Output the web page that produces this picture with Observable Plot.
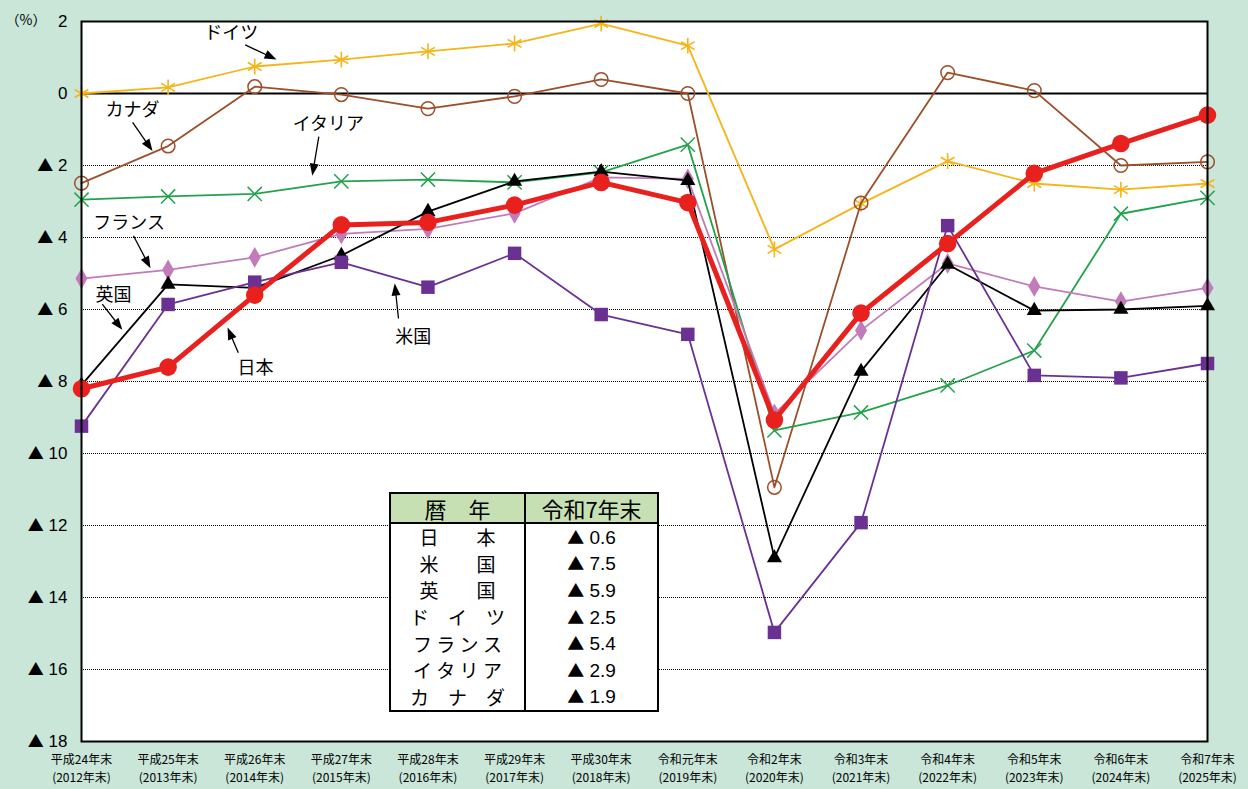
<!DOCTYPE html>
<html><head><meta charset="utf-8">
<script src="https://cdn.jsdelivr.net/npm/d3@7"></script>
<script src="https://cdn.jsdelivr.net/npm/@observablehq/plot@0.6"></script>
<style>
html,body{margin:0;padding:0;background:#c9e6d9;width:1248px;height:789px;overflow:hidden;}
#wrap{position:relative;width:1248px;height:789px;}
#wrap svg{position:absolute;left:0;top:0;}
#tbl{position:absolute;left:389px;top:492px;border-collapse:collapse;border:2px solid #000;background:#fff;font-family:"Noto Sans CJK JP",sans-serif;color:#000;}
#tbl th{background:#c6e0b4;font-weight:normal;font-size:22px;height:28px;line-height:20px;padding:0;border-bottom:2px solid #000;text-align:center;}
#tbl td{font-size:19px;line-height:18px;height:26.6px;padding:0;text-align:center;vertical-align:middle;}
#tbl .c1{width:133px;border-right:2px solid #000;}
#tbl .c2{width:131px;}
#tbl td.c2{font-family:"Liberation Sans","Noto Sans CJK JP",sans-serif;font-size:19px;}
#tbl .tri{font-family:"Noto Sans CJK JP",sans-serif;font-size:17px;line-height:18px;}
</style></head>
<body><div id="wrap"></div>
<script>
// categories
const eraLabels = ["平成24年末","平成25年末","平成26年末","平成27年末","平成28年末","平成29年末","平成30年末","令和元年末","令和2年末","令和3年末","令和4年末","令和5年末","令和6年末","令和7年末"];
const yearLabels = ["(2012年末)","(2013年末)","(2014年末)","(2015年末)","(2016年末)","(2017年末)","(2018年末)","(2019年末)","(2020年末)","(2021年末)","(2022年末)","(2023年末)","(2024年末)","(2025年末)"];
// series values (%)
const japan   = [-8.2,-7.6,-5.6,-3.65,-3.58,-3.1,-2.47,-3.03,-9.07,-6.1,-4.17,-2.22,-1.39,-0.6];
const usa     = [-9.24,-5.86,-5.24,-4.69,-5.38,-4.44,-6.14,-6.69,-14.97,-11.92,-3.67,-7.83,-7.9,-7.5];
const uk      = [-8.1,-5.3,-5.4,-4.5,-3.28,-2.44,-2.17,-2.42,-12.9,-7.72,-4.75,-6.03,-6.0,-5.9];
const germany = [0.0,0.17,0.75,0.94,1.17,1.39,1.94,1.33,-4.33,-3.06,-1.88,-2.5,-2.67,-2.5];
const france  = [-5.14,-4.9,-4.55,-3.9,-3.76,-3.33,-2.33,-2.37,-8.9,-6.58,-4.72,-5.36,-5.78,-5.4];
const italy   = [-2.95,-2.86,-2.79,-2.44,-2.39,-2.47,-2.19,-1.42,-9.36,-8.86,-8.11,-7.14,-3.34,-2.9];
const canada  = [-2.49,-1.46,0.19,-0.03,-0.42,-0.08,0.39,0.0,-10.94,-3.04,0.58,0.08,-2.0,-1.9];
// tick values
const yTicks = [2,0,-2,-4,-6,-8,-10,-12,-14,-16,-18];
const gridTicks = [-2,-4,-6,-8,-10,-12,-14,-16];
// table
const tableHeader = ["暦　年","令和7年末"];
const tableNames = ["日　　本","米　　国","英　　国","ド　イ　ツ","フ ラ ン ス","イ タ リ ア","カ　ナ　ダ"];
const tableSeries = [japan, usa, uk, germany, france, italy, canada];
// annotation labels
const annotLabels = ["ドイツ","カナダ","イタリア","フランス","英国","日本","米国"];

const annotPos = [
  {tx:1.73,ty:1.68,x1:1.89,y1:1.35,x2:2.22,y2:0.98},
  {tx:0.59,ty:-0.47,x1:0.59,y1:-0.8,x2:0.8,y2:-1.53},
  {tx:2.85,ty:-0.86,x1:2.74,y1:-1.2,x2:2.67,y2:-2.2},
  {tx:0.55,ty:-3.61,x1:0.6,y1:-3.95,x2:0.78,y2:-4.78},
  {tx:0.37,ty:-5.61,x1:0.24,y1:-5.85,x2:0.45,y2:-6.5},
  {tx:2.01,ty:-7.64,x1:1.81,y1:-7.2,x2:1.7,y2:-6.58},
  {tx:3.83,ty:-6.78,x1:3.66,y1:-6.25,x2:3.62,y2:-5.36}
];
const annots = annotLabels.map((label,i)=>({label, ...annotPos[i]}));

const idx = d3.range(eraLabels.length);
const seriesStyle = [
  {values:germany, color:"#f5b417", w:1.8, dot:{symbol:"asterisk", r:7.5, stroke:"#f5b417", strokeWidth:1.6, fill:"none"}},
  {values:canada,  color:"#9b4f2b", w:1.8, dot:{symbol:"circle", r:6.8, stroke:"#9b4f2b", strokeWidth:1.5, fill:"none"}},
  {values:italy,   color:"#23a24c", w:1.8, dot:{symbol:"times", r:6.5, stroke:"#23a24c", strokeWidth:1.5, fill:"none"}},
  {values:france,  color:"#c27bb9", w:1.8, dot:{symbol:"diamond", r:6.3, fill:"#c27bb9"}},
  {values:uk,      color:"#000000", w:1.8, dot:{symbol:"triangle", r:5.6, fill:"#000000"}},
  {values:usa,     color:"#6a3192", w:1.8, dot:{symbol:"square", r:7.6, fill:"#6a3192"}},
  {values:japan,   color:"#e8201e", w:5,   dot:{symbol:"circle", r:8.8, fill:"#e8201e"}}
];

const marks = [
  Plot.frame({fill:"white"}),
  Plot.ruleY(gridTicks, {stroke:"#000", strokeWidth:1, strokeDasharray:"1,1"}),
  Plot.ruleY([0], {stroke:"#000", strokeWidth:2})
];
for (const s of seriesStyle) {
  const rows = s.values.map((v,i)=>({i, v}));
  marks.push(Plot.line(rows, {x:"i", y:"v", stroke:s.color, strokeWidth:s.w}));
  marks.push(Plot.dot(rows, {x:"i", y:"v", ...s.dot}));
}
marks.push(
  Plot.link(annots, {x1:"x1", y1:"y1", x2:"x2", y2:"y2", stroke:"#000", strokeWidth:1.3, markerEnd:"arrow"}),
  Plot.text(annots, {x:"tx", y:"ty", text:"label", fontSize:18, fill:"#000", fontFamily:"Noto Sans CJK JP"}),
  Plot.frame({stroke:"#000", strokeWidth:2}),
  Plot.axisY({ticks:yTicks, tickFormat:d => d > 0 ? String(d) : d === 0 ? "0" : "▲ " + (-d), tickSize:0, tickPadding:14, fontSize:17, fill:"#000"}),
  Plot.axisX({ticks:idx, tickFormat:i => eraLabels[i] + "\n" + yearLabels[i], tickSize:0, tickPadding:9, fontSize:12, lineHeight:1.55, fill:"#000", fontFamily:"Noto Sans CJK JP"}),
  Plot.text(["（%）"], {text:d=>d, frameAnchor:"top-left", textAnchor:"start", dx:-76, dy:-6, fontSize:14, fill:"#000", fontFamily:"Noto Sans CJK JP"})
);

const svg = Plot.plot({
  width:1248, height:789,
  marginLeft:81, marginRight:41, marginTop:21, marginBottom:48,
  x:{type:"linear", domain:[0, eraLabels.length-1]},
  y:{domain:[-18,2]},
  style:{background:"transparent", fontFamily:"'Liberation Sans','Noto Sans CJK JP',sans-serif", color:"#000", overflow:"visible"},
  marks
});
// filled arrowheads
svg.querySelectorAll("marker").forEach(m => {
  m.setAttribute("markerUnits","userSpaceOnUse");
  m.setAttribute("viewBox","-11 -6 16 12");
  m.setAttribute("markerWidth","16");
  m.setAttribute("markerHeight","12");
  m.setAttribute("fill","#000");
  m.setAttribute("stroke","none");
  const p = m.querySelector("path");
  if (p) p.setAttribute("d","M-9,-4.5L3,0L-9,4.5Z");
});
// larger triangle glyph in y tick labels
svg.querySelectorAll("text").forEach(t => {
  const s = t.textContent;
  if (s.startsWith("▲") && t.children.length === 0) {
    const rest = s.slice(1);
    t.textContent = "";
    const a = document.createElementNS("http://www.w3.org/2000/svg","tspan");
    a.setAttribute("font-family","Noto Sans CJK JP");
    a.setAttribute("font-size","16");
    a.textContent = "▲";
    const b = document.createElementNS("http://www.w3.org/2000/svg","tspan");
    b.textContent = rest;
    t.appendChild(a); t.appendChild(b);
  }
});
document.getElementById("wrap").appendChild(svg);

// table
const tbl = document.createElement("table");
tbl.id = "tbl";
const hr = tbl.insertRow();
tableHeader.forEach((h,j)=>{ const th=document.createElement("th"); th.className="c"+(j+1); th.textContent=h; hr.appendChild(th); });
tableNames.forEach((n,k)=>{
  const r = tbl.insertRow();
  const a = r.insertCell(); a.className="c1"; a.textContent=n;
  const vals = tableSeries[k];
  const last = vals[vals.length-1];
  const b = r.insertCell(); b.className="c2";
  if (last < 0) { const sp=document.createElement("span"); sp.className="tri"; sp.textContent="▲"; b.appendChild(sp); }
  b.appendChild(document.createTextNode(" " + Math.abs(last).toFixed(1)));
});
document.getElementById("wrap").appendChild(tbl);
</script>
</body></html>
